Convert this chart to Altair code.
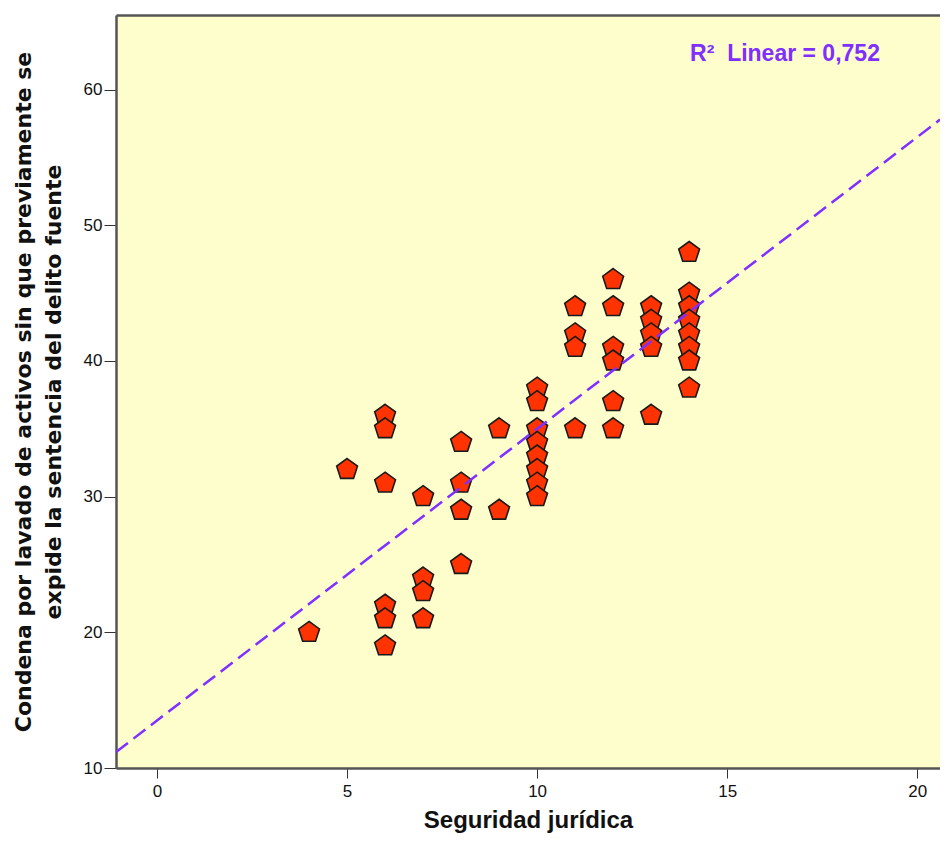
import altair as alt
import pandas as pd

# Data
seguridad = [4, 5,
             6, 6, 6, 6, 6, 6,
             7, 7, 7, 7,
             8, 8, 8, 8,
             9, 9,
             10, 10, 10, 10, 10, 10, 10, 10,
             11, 11, 11, 11,
             12, 12, 12, 12, 12, 12,
             13, 13, 13, 13, 13,
             14, 14, 14, 14, 14, 14, 14, 14]
condena = [20, 32,
           36, 35, 31, 22, 21, 19,
           30, 24, 23, 21,
           34, 31, 29, 25,
           35, 29,
           38, 37, 35, 34, 33, 32, 31, 30,
           44, 42, 41, 35,
           46, 44, 41, 40, 37, 35,
           44, 43, 42, 41, 36,
           48, 45, 44, 43, 42, 41, 40, 38]

fit_intercept = 13.5
fit_slope = 2.15
x_domain = [-1.08, 20.6]
y_domain = [10, 65.5]
x_ticks = [0, 5, 10, 15, 20]
y_ticks = [10, 20, 30, 40, 50, 60]
r2_label = "R²\u00a0\u00a0Linear = 0,752"

points = pd.DataFrame({"x": seguridad, "y": condena})
line_df = pd.DataFrame({
    "x": x_domain,
    "y": [fit_intercept + fit_slope * v for v in x_domain],
})

PENTAGON = "M0,-1L0.951,-0.309L0.588,0.809L-0.588,0.809L-0.951,-0.309Z"
W, H = 824, 753
LABEL_FONT = "Liberation Sans Narrow, Liberation Sans, Arial"
PURPLE = "#7F2FFF"

xscale = alt.Scale(domain=x_domain, nice=False, zero=False)
yscale = alt.Scale(domain=y_domain, nice=False, zero=False)

pts = alt.Chart(points).mark_point(
    shape=PENTAGON, filled=True, fill="#FF3300", stroke="#1a1a1a",
    strokeWidth=1.6, size=480, opacity=1,
).encode(
    x=alt.X("x:Q", scale=xscale, axis=alt.Axis(
        title="Seguridad jurídica", values=x_ticks, grid=False,
        tickSize=10, tickColor="#333", domainColor="#555", domainWidth=2.5,
        labelFont=LABEL_FONT, labelFontSize=17, labelColor="#111", labelPadding=5,
        titleFont="Liberation Sans", titleFontSize=24, titleFontWeight="bold",
        titleColor="#111", titlePadding=9,
    )),
    y=alt.Y("y:Q", scale=yscale, axis=alt.Axis(
        title=["Condena por lavado de activos sin que previamente se",
               "expide la sentencia del delito fuente"],
        values=y_ticks, grid=False,
        tickSize=12, tickColor="#333", domainColor="#555", domainWidth=2.5,
        labelFont=LABEL_FONT, labelFontSize=17, labelColor="#111", labelPadding=2,
        titleFont="DejaVu Sans", titleFontSize=22, titleFontWeight="bold",
        titleColor="#111", titlePadding=18, titleLineHeight=30,
    )),
)

fit = alt.Chart(line_df).mark_line(
    color=PURPLE, strokeWidth=2.5, strokeDash=[15, 7], clip=True,
).encode(
    x=alt.X("x:Q", scale=xscale, axis=alt.Axis(
        orient="top", labels=False, ticks=False, title=None, grid=False,
        domainColor="#555", domainWidth=2.5)),
    y=alt.Y("y:Q", scale=yscale),
)

label = alt.Chart(pd.DataFrame({"t": [r2_label]})).mark_text(
    font="Liberation Sans", fontSize=23, fontWeight="bold", color=PURPLE,
    align="center", baseline="middle",
).encode(text="t:N", x=alt.value(669), y=alt.value(39))

chart = alt.layer(pts, fit, label).resolve_axis(x="independent").properties(
    width=W, height=H,
    autosize=alt.AutoSizeParams(type="none"),
    padding={"left": 108, "top": 7, "right": 0, "bottom": 71},
).configure_view(
    fill="#FEFDCC", stroke=None,
)

chart.save("out.html", embed_options={"renderer": "svg", "actions": False})
